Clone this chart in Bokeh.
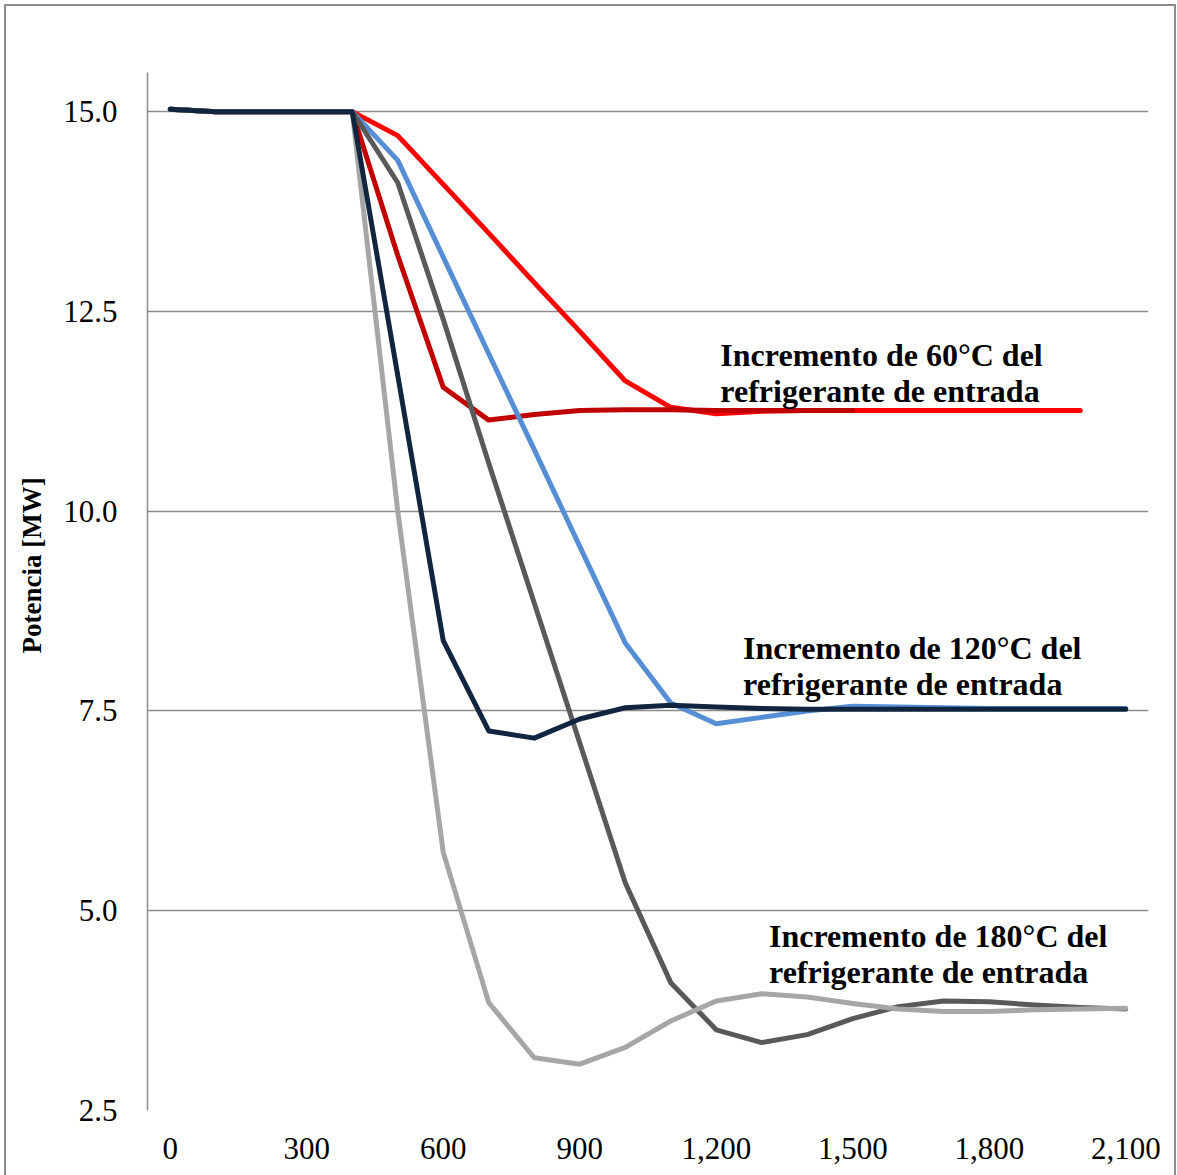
from bokeh.plotting import figure
from bokeh.models import (Range1d, Label, NumeralTickFormatter, FixedTicker, Title,
                          InlineStyleSheet)
from bokeh.embed import file_html
from bokeh.resources import INLINE

# ---- data ----
time_s = [0, 100, 200, 300, 400, 500, 600, 700, 800, 900, 1000, 1100,
          1200, 1300, 1400, 1500, 1600, 1700, 1800, 1900, 2000, 2100]

red_60_slow = [15.03, 15.0, 15.0, 15.0, 15.0, 14.70, 14.09, 13.48, 12.86, 12.25,
               11.63, 11.30, 11.22, 11.25, 11.26, 11.26, 11.26, 11.26, 11.26,
               11.26, 11.26]
red_60_fast = [15.03, 15.0, 15.0, 15.0, 15.0, 13.20, 11.55, 11.14, 11.21, 11.26,
               11.27, 11.27, 11.26, 11.26, 11.26, 11.26]
blue_120_slow = [15.03, 15.0, 15.0, 15.0, 15.0, 14.39, 13.18, 11.97, 10.77, 9.56,
                 8.35, 7.60, 7.34, 7.42, 7.50, 7.56, 7.55, 7.54, 7.53, 7.53,
                 7.53, 7.53]
gray_180_slow = [15.03, 15.0, 15.0, 15.0, 15.0, 14.11, 12.40, 10.60, 8.85, 7.10,
                 5.35, 4.10, 3.51, 3.35, 3.45, 3.65, 3.80, 3.87, 3.86, 3.82,
                 3.79, 3.77]
lgray_180_fast = [15.03, 15.0, 15.0, 15.0, 15.0, 10.00, 5.73, 3.85, 3.16, 3.08,
                  3.29, 3.62, 3.87, 3.96, 3.92, 3.84, 3.77, 3.74, 3.74, 3.76,
                  3.77, 3.78]
navy_120_fast = [15.03, 15.0, 15.0, 15.0, 15.0, 11.70, 8.38, 7.25, 7.16, 7.40,
                 7.54, 7.57, 7.55, 7.53, 7.52, 7.52, 7.52, 7.52, 7.52, 7.52,
                 7.52, 7.52]

x_ticks = [0, 300, 600, 900, 1200, 1500, 1800, 2100]
y_ticks = [2.5, 5.0, 7.5, 10.0, 12.5, 15.0]

y_title = "Potencia [MW]"
labels = ["Incremento de 60°C del\nrefrigerante de entrada",
          "Incremento de 120°C del\nrefrigerante de entrada",
          "Incremento de 180°C del\nrefrigerante de entrada"]

FONT = "Liberation Serif"
GRID = "#8c8c8c"

p = figure(width=1176, height=1175, output_backend="svg", toolbar_location=None,
           x_range=Range1d(-50, 2150), y_range=Range1d(2.5, 15.49),
           min_border_left=147, min_border_right=28, min_border_top=72,
           min_border_bottom=65)
p.stylesheets = [InlineStyleSheet(css=(
    ":host::after { content: ''; position: absolute; left: 4px; top: 4px; "
    "right: 0px; bottom: 0px; border: 2px solid #8c8c8c; border-bottom: none; "
    "pointer-events: none; z-index: 10; }"))]
p.outline_line_color = None
p.background_fill_color = "white"

series = [
    (red_60_slow, "#ff0000"),
    (red_60_fast, "#c00000"),
    (blue_120_slow, "#558ed5"),
    (gray_180_slow, "#595959"),
    (lgray_180_fast, "#a6a6a6"),
    (navy_120_fast, "#10253f"),
]
for ys, col in series:
    p.line(time_s[:len(ys)], ys, line_color=col, line_width=5,
           line_cap="round", line_join="round")

# axes
p.xaxis.ticker = FixedTicker(ticks=x_ticks)
p.yaxis.ticker = FixedTicker(ticks=y_ticks)
p.xaxis.formatter = NumeralTickFormatter(format="0,0")
p.yaxis.formatter = NumeralTickFormatter(format="0.0")
for ax in (p.xaxis[0], p.yaxis[0]):
    ax.major_tick_line_color = None
    ax.minor_tick_line_color = None
    ax.major_label_text_font = FONT
    ax.major_label_text_font_size = "31px"
    ax.major_label_text_color = "black"
p.xaxis.axis_line_color = None
p.yaxis.axis_line_color = GRID
p.yaxis.axis_line_width = 1.5
p.xaxis.major_label_standoff = 21
p.yaxis.major_label_standoff = 24

p.xgrid.grid_line_color = None
p.ygrid.grid_line_color = GRID
p.ygrid.grid_line_width = 1.5

# y title as a side title, shifted along the axis
p.add_layout(Title(text=y_title, text_font=FONT, text_font_style="bold",
                   text_font_size="27px", text_color="black",
                   align="left", offset=457, standoff=27), "left")

label_pos = [(1209, 12.18), (1259, 8.51), (1316, 4.91)]
for txt, (lx, ly) in zip(labels, label_pos):
    p.add_layout(Label(x=lx, y=ly, text=txt, text_font=FONT,
                       text_font_style="bold", text_font_size="32px",
                       text_color="black", text_baseline="top",
                       text_align="left", text_line_height=1.0))

open("out.html", "w").write(file_html(p, INLINE))
